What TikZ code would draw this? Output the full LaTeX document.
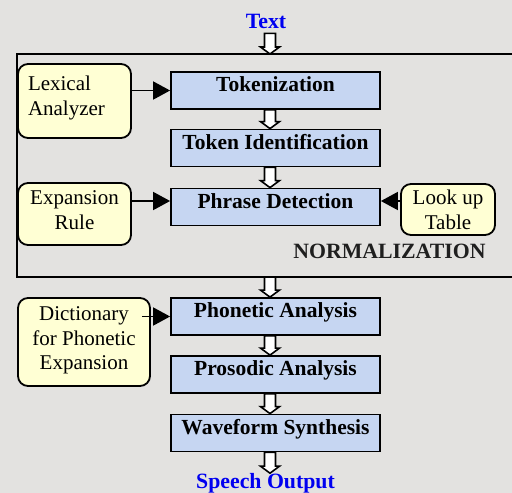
\documentclass[tikz,border=0pt]{standalone}
\usepackage{fontspec}
\setmainfont{Liberation Serif}
\usetikzlibrary{arrows.meta,calc}
\definecolor{bg}{HTML}{E3E2E0}
\definecolor{bluebox}{HTML}{C6D6F2}
\definecolor{yelbox}{HTML}{FFFFD4}
\definecolor{tblue}{HTML}{0000F0}
\newcommand\harrow[2]{%
  \path #1 coordinate (hA) #2 coordinate (hB);
  \filldraw[hol] ($(hA)+(-5.5,0)$) -- ($(hB)+(-5.5,-7)$) -- ($(hB)+(-9.5,-7)$) -- (hB)
    -- ($(hB)+(9.5,-7)$) -- ($(hB)+(5.5,-7)$) -- ($(hA)+(5.5,0)$) -- cycle;}
\newcommand\lowstrut[1]{\rule[-#1]{0pt}{1pt}}
\begin{document}
\begin{tikzpicture}[x=1pt,y=-1pt,
  proc/.style={draw=black, line width=1.8pt, fill=bluebox, minimum width=209pt,
    minimum height=37pt, inner sep=0pt, font=\bfseries\fontsize{21.5}{25}\selectfont,
    text height=14pt, text depth=12pt},
  src/.style={draw=black, line width=1.8pt, fill=yelbox, rounded corners=10pt,
    inner sep=0pt, font=\fontsize{21}{25}\selectfont, align=center},
  hol/.style={draw=black, fill=white, line width=1.6pt, line join=miter},
  arr/.style={line width=1.8pt, -{Triangle[length=17pt,width=18pt]}},
  frame/.style={draw=black, line width=1.8pt},
  io/.style={font=\bfseries\fontsize{21.8}{24}\selectfont, text=tblue, inner sep=0pt}]
\fill[bg] (0,0) rectangle (512,493);
\useasboundingbox (0,0) rectangle (512,493);
\coordinate (ax) at (270,0);
% frame
\draw[frame] (514,54) -- (17,54) -- (17,277) -- (514,277);
\coordinate (ftop) at (270,54);
\coordinate (fbot) at (270,277);
% process boxes
\node[proc] (tok) at (275.5,90.5) {Tokenization};
\node[proc] (tid) at (275.5,148) {Token Identification};
\node[proc] (phr) at (275.5,207) {Phrase Detection};
\node[proc] (pho) at (275.5,316.5) {Phonetic Analysis};
\node[proc] (pro) at (275.5,374.5) {Prosodic Analysis};
\node[proc] (wav) at (275.5,433) {Waveform Synthesis};
% source boxes
\node[src, align=left, text width=93pt, inner xsep=10pt, minimum height=74pt]
  (lex) at (74.5,101) {Lexical\\Analyzer\lowstrut{11pt}};
\node[src, minimum width=113pt, minimum height=62pt]
  (exp) at (74.5,214) {Expansion\\Rule\lowstrut{7pt}};
\node[src, minimum width=94pt, minimum height=51pt]
  (look) at (448,209.5) {Look up\\Table};
\node[src, minimum width=132pt, minimum height=88pt,
  font=\fontsize{21}{24.5}\selectfont]
  (dict) at (84,342) {Dictionary\\for Phonetic\\Expansion\lowstrut{7pt}};
% labels
\node[font=\bfseries\fontsize{21.8}{24}\selectfont, text=black!88, anchor=base, inner sep=0pt]
  (norm) at (389.5,258) {NORMALIZATION};
\node[io, anchor=base] (txt) at (266,28) {Text};
\node[io, anchor=base] (sp) at (265.5,488.5) {Speech Output};
% connectors
\coordinate (phrW) at ([yshift=6pt]phr.west);
\coordinate (phrE) at ([yshift=6pt]phr.east);
\draw[arr] (exp.east |- phrW) -- (phrW);
\draw[arr] (look.west |- phrE) -- (phrE);
\draw[arr] (lex.east |- tok.west) -- (tok.west);
\draw[arr] ([xshift=-9pt]dict.east |- pho.west) -- (pho.west);
% hollow arrows
\harrow{([yshift=-5pt]txt.south -| ax)}{(ftop)}
\harrow{(tok.south -| ax)}{(tid.north -| ax)}
\harrow{(tid.south -| ax)}{(phr.north -| ax)}
\harrow{(fbot)}{(pho.north -| ax)}
\harrow{(pho.south -| ax)}{(pro.north -| ax)}
\harrow{(pro.south -| ax)}{(wav.north -| ax)}
\harrow{(wav.south -| ax)}{(sp.north -| ax)}
\end{tikzpicture}
\end{document}
